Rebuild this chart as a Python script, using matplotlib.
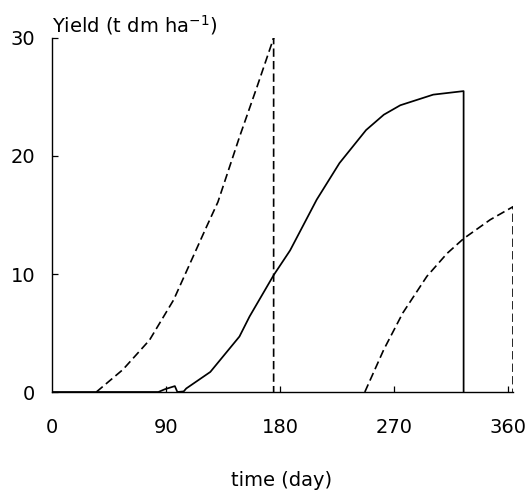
import matplotlib
matplotlib.use('Agg')
import matplotlib.pyplot as plt

# early crop (dashed)
day_a = [35, 56, 77, 96, 109, 122, 131, 148, 162, 175, 175]
yield_a = [0, 1.9, 4.4, 7.8, 10.9, 14.0, 16.1, 21.6, 25.9, 30.0, 0]

# main crop (solid)
day_b = [0, 84, 89, 97, 99, 104, 106, 125, 148, 156, 175, 188, 209, 227,
         248, 262, 275, 301, 325, 325]
yield_b = [0, 0, 0.23, 0.5, 0, 0.05, 0.3, 1.7, 4.7, 6.4, 9.9, 12.0, 16.3,
           19.4, 22.2, 23.5, 24.3, 25.2, 25.5, 0]

# late crop (dashed)
day_c = [247, 262, 277, 296, 312, 325, 346, 364, 364]
yield_c = [0, 3.6, 6.7, 9.8, 11.75, 13.0, 14.6, 15.7, 0]

x_ticks = [0, 90, 180, 270, 360]
y_ticks = [0, 10, 20, 30]

plt.rcParams['font.family'] = ['DejaVu Sans']

fig = plt.figure(figsize=(5.29, 4.95), dpi=100)
ax = fig.add_axes([52 / 529, 103 / 495, 461 / 529, 354 / 495])

dash = (0, (5, 2.5))
ax.plot(day_a, yield_a, color='black', linewidth=1.2, linestyle=dash)
ax.plot(day_b, yield_b, color='black', linewidth=1.25)
ax.plot(day_c, yield_c, color='black', linewidth=1.2, linestyle=dash)

ax.set_xlim(0, 364)
ax.set_ylim(0, 30)
ax.set_xticks(x_ticks)
ax.set_yticks(y_ticks)
ax.tick_params(axis='x', direction='in', length=4, width=0.9, pad=19,
               labelsize=14)
ax.tick_params(axis='y', direction='in', length=4, width=0.9, pad=12,
               labelsize=14)
ax.xaxis.get_major_ticks()[0].tick1line.set_visible(False)

for s in ['top', 'right']:
    ax.spines[s].set_visible(False)
for s in ['left', 'bottom']:
    ax.spines[s].set_linewidth(1.0)

fig.text(52 / 529, 1 - 32 / 495, r'Yield (t dm ha$^{-1}$)', fontsize=14,
         ha='left', va='baseline')
fig.text(282 / 529, 1 - 480 / 495, 'time (day)', fontsize=14,
         ha='center', va='center')

fig.savefig('out.png', dpi=100)
